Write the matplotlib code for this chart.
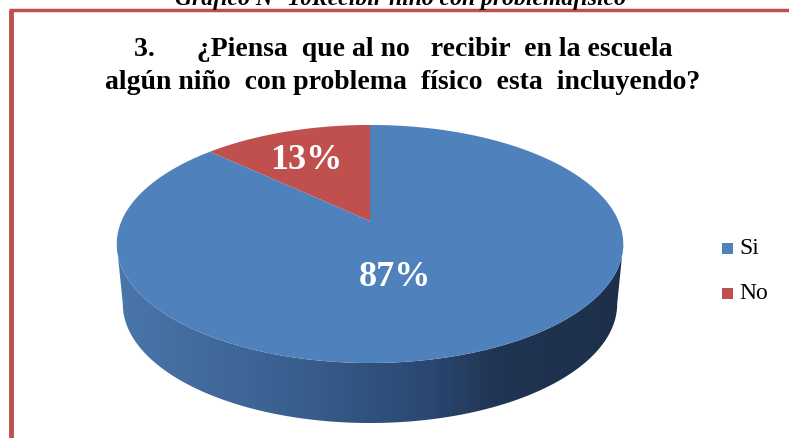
import numpy as np
import matplotlib.pyplot as plt
from matplotlib.patches import Polygon, Rectangle
from matplotlib.colors import LinearSegmentedColormap

# data
categories = ["Si", "No"]
percentages = [87, 13]
colors = ["#4F81BD", "#C0504D"]

title_text = "3.      ¿Piensa  que al no   recibir  en la escuela\nalgún niño  con problema  físico  esta  incluyendo?"
caption_text = "Gráfico N° 10Recibir niño con problemafísico"

# pie geometry (pixel coords, y grows downwards)
cx, cy = 370, 222
A, B = 248.5, 114.6
k = 0.193          # perspective factor
depth = 60
bottom_scale = 0.976


def project(theta, dy=0.0, sx=1.0):
    s = np.sin(theta)
    d = 1 + k * s
    x = cx + sx * A * np.cos(theta) / d
    y = cy + dy - B * s / d
    return x, y


fig = plt.figure(figsize=(7.89, 4.39), dpi=100)
ax = fig.add_axes([0, 0, 1, 1])
ax.set_xlim(0, 789)
ax.set_ylim(439, 0)
ax.axis("off")

# side of the cylinder (front half), shaded with a gradient
t_ext = np.arcsin(-k)
t_front = np.linspace(np.pi - t_ext, 2 * np.pi + t_ext, 200)
xt, yt = project(t_front)
xb, yb = project(t_front[::-1], dy=depth, sx=bottom_scale)
side = Polygon(np.column_stack([np.r_[xt, xb], np.r_[yt, yb]]),
               closed=True, facecolor="none", edgecolor="none")
ax.add_patch(side)
side_cmap = LinearSegmentedColormap.from_list(
    "side", [(0.0, "#4a76aa"), (0.35, "#395f8f"), (0.62, "#2a4770"),
             (0.75, "#203553"), (1.0, "#1d2f4a")])
grad = np.linspace(0, 1, 256).reshape(1, -1)
im = ax.imshow(grad, cmap=side_cmap, extent=[117, 624, 430, 200],
               aspect="auto", zorder=1)
im.set_clip_path(side)

# top face slices, starting at 12 o'clock going counterclockwise for "No"
fracs = np.array(percentages[::-1]) / sum(percentages)
start = np.pi / 2
for frac, col in zip(fracs, colors[::-1]):
    end = start + 2 * np.pi * frac
    th = np.linspace(start, end, 200)
    px, py = project(th)
    poly = np.column_stack([np.r_[cx, px], np.r_[cy, py]])
    ax.add_patch(Polygon(poly, closed=True, facecolor=col,
                         edgecolor="none", zorder=2))
    start = end

# percentage labels
ax.text(306, 161, f"{percentages[1]}%", color="white", fontsize=26,
        fontweight="bold", family="Liberation Serif", ha="center",
        va="center", zorder=3)
ax.text(395, 278, f"{percentages[0]}%", color="white", fontsize=26,
        fontweight="bold", family="Liberation Serif", ha="center",
        va="center", zorder=3)

# title and cut-off caption
ax.text(403, 66, title_text, fontsize=20, fontweight="bold",
        family="Liberation Serif", ha="center", va="center",
        linespacing=1.45)
ax.text(401, 5, caption_text, fontsize=17, fontweight="bold",
        style="italic", family="Liberation Serif", ha="center",
        va="baseline")

# legend
for i, (cat, col) in enumerate(zip(categories, colors)):
    ly = 249 + i * 45
    ax.add_patch(Rectangle((722, ly - 5.5), 11, 11, facecolor=col,
                           edgecolor="none"))
    ax.text(739, ly, cat, fontsize=17, family="Liberation Serif",
            ha="left", va="center")

# red frame (left and top edge)
ax.plot([11.5, 11.5], [11, 439], color="#C0504D", lw=3.5,
        solid_capstyle="butt")
ax.plot([9.5, 789], [11, 11], color="#C0504D", lw=2.5,
        solid_capstyle="butt")

fig.savefig("out.png", dpi=100)
